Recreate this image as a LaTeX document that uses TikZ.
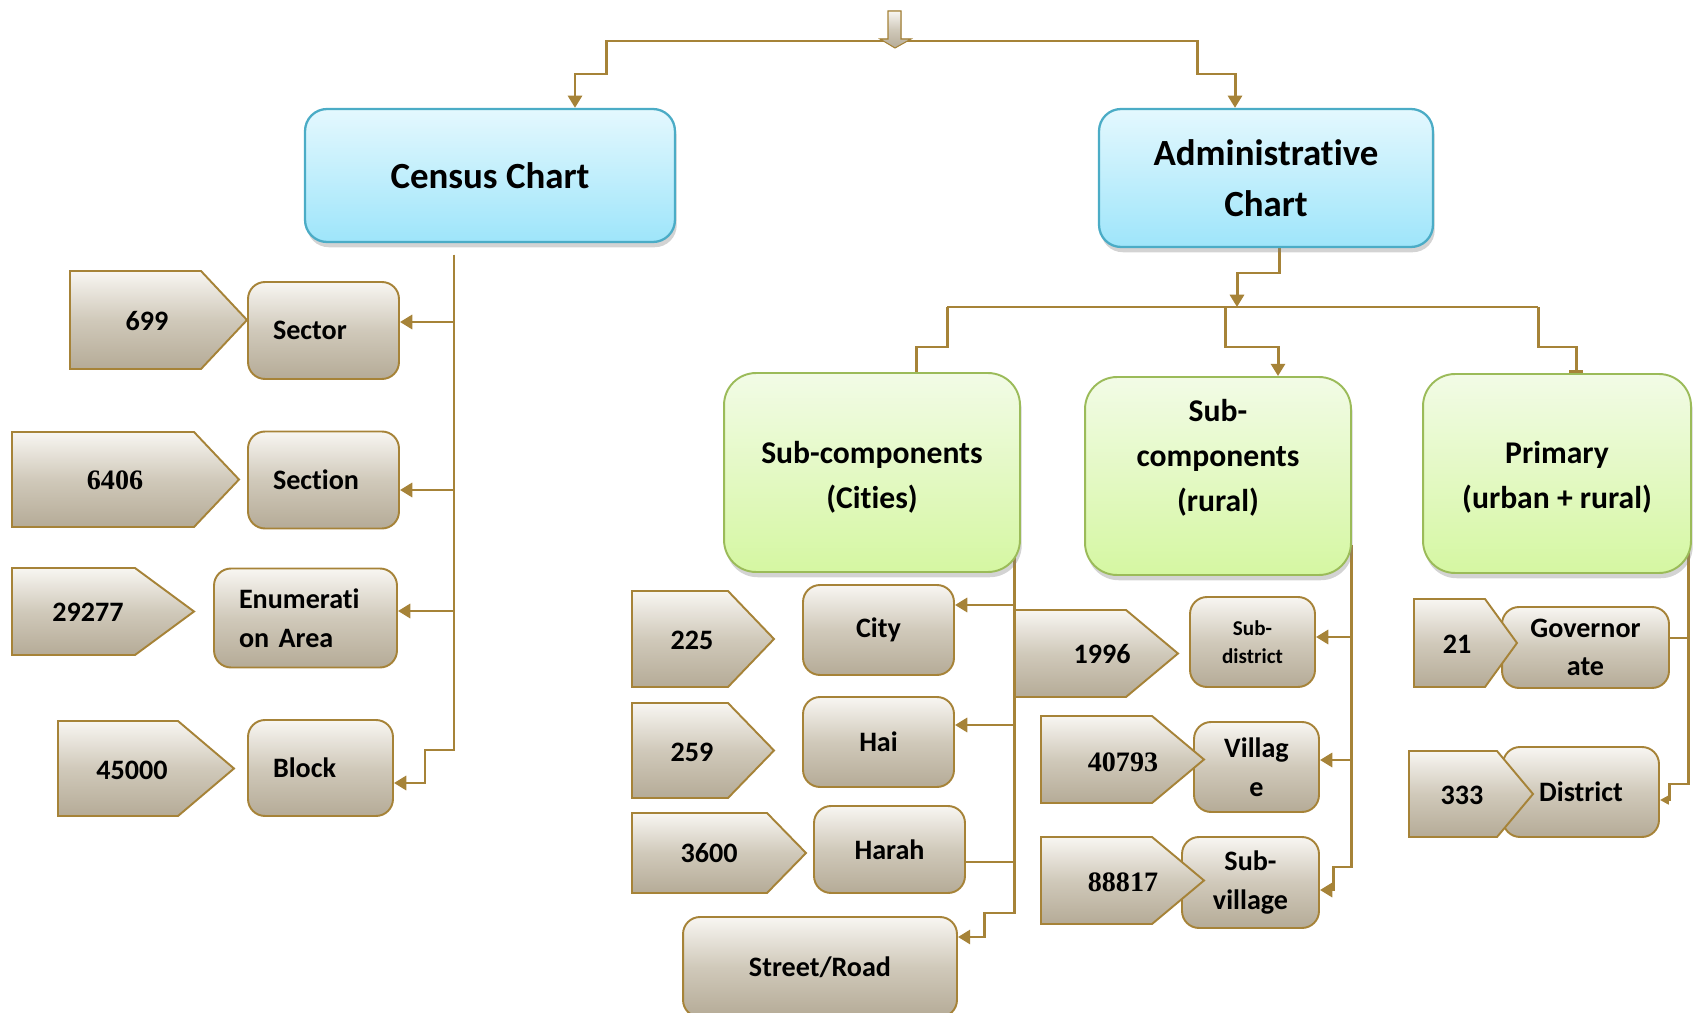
\documentclass[tikz,border=0pt]{standalone}
\usepackage{fontspec}
\setmainfont{Carlito}[Ligatures=NoCommon]
\newfontfamily\timesfont{Liberation Serif}
\usetikzlibrary{arrows.meta,shadows,backgrounds}

\definecolor{lncol}{RGB}{166,131,56}
\definecolor{grtop}{RGB}{248,246,242}
\definecolor{grmid}{RGB}{208,201,186}
\definecolor{grbot}{RGB}{181,171,151}
\definecolor{bltop}{RGB}{228,248,254}
\definecolor{blbot}{RGB}{158,229,250}
\definecolor{blline}{RGB}{75,172,198}
\definecolor{gntop}{RGB}{242,251,230}
\definecolor{gnbot}{RGB}{213,247,162}
\definecolor{gnline}{RGB}{155,187,89}

\begin{document}
\begin{tikzpicture}[
    x=0.02cm, y=-0.02cm,
    chart/.style={rectangle, draw=blline, line width=1.3pt, rounded corners=0.44cm, top color=bltop, bottom color=blbot, align=center, font=\fontsize{21}{29}\selectfont\bfseries, drop shadow={shadow xshift=1pt, shadow yshift=-3pt, opacity=0.35}},
    part/.style={rectangle, draw=gnline, line width=1.1pt, rounded corners=0.64cm, top color=gntop, bottom color=gnbot, drop shadow={shadow xshift=1pt, shadow yshift=-3pt, opacity=0.35}},
    parttext/.style={align=center, font=\fontsize{18}{25.5}\selectfont\bfseries},
    unit/.style={rectangle, draw=lncol, line width=1.1pt, rounded corners=0.34cm, top color=grtop, bottom color=grbot, middle color=grmid, align=center, font=\fontsize{16}{22}\selectfont\bfseries},
    cunit/.style={unit, align=left, inner xsep=0.5cm},
    tag/.style={draw=lncol, line width=1.1pt, top color=grtop, bottom color=grbot, middle color=grmid},
    count/.style={font=\fontsize{16}{20}\selectfont\bfseries},
    countserif/.style={font=\timesfont\fontsize{16}{20}\selectfont\bfseries},
    conn/.style={draw=lncol, line width=1.7pt},
    arr/.style={-{Triangle[length=7pt,width=8pt]}}
]
    \useasboundingbox (0,0) rectangle (1694,1013);

    % charts
    \node[chart, minimum width=7.4cm, minimum height=2.66cm] (census) at (490,175.5) {Census Chart};
    \node[chart, minimum width=6.68cm, minimum height=2.76cm] (admin) at (1266,178) {Administrative\\Chart};

    % administrative parts
    \node[part, minimum width=5.92cm, minimum height=3.98cm] (cities) at (872,472.5) {};
    \node[parttext] (citiestext) at (872,477) {Sub-components\\(Cities)};
    \node[part, minimum width=5.32cm, minimum height=3.96cm] (rural) at (1218,476) {};
    \node[parttext] (ruraltext) at (1218,458) {Sub-\\components\\(rural)};
    \node[part, minimum width=5.36cm, minimum height=3.98cm] (primary) at (1557,473.5) {};
    \node[parttext] (primarytext) at (1557,477) {Primary\\(urban + rural)};

    % census units
    \node[cunit, minimum width=3.02cm, minimum height=1.94cm, text width=2.02cm] (sector) at (323.5,330.5) {Sector};
    \node[cunit, minimum width=3.02cm, minimum height=1.94cm, text width=2.02cm] (section) at (323.5,480) {Section};
    \node[cunit, minimum width=3.66cm, minimum height=1.98cm, text width=2.66cm] (enum) at (305.5,618) {Enumerati\\on Area};
    \node[cunit, minimum width=2.9cm, minimum height=1.92cm, text width=1.9cm] (block) at (320.5,768) {Block};

    % city units
    \node[unit, minimum width=3.02cm, minimum height=1.8cm] (city) at (878.5,630) {City};
    \node[unit, minimum width=3.02cm, minimum height=1.8cm] (hai) at (878.5,742) {Hai};
    \node[unit, minimum width=3.02cm, minimum height=1.74cm] (harah) at (889.5,849.5) {Harah};
    \node[unit, minimum width=5.48cm, minimum height=2cm] (street) at (820,967) {Street/Road};

    % rural units
    \node[unit, minimum width=2.5cm, minimum height=1.8cm, font=\fontsize{12}{15.8}\selectfont\bfseries] (subdist) at (1252.5,642) {Sub-\\district};
    \node[unit, minimum width=2.5cm, minimum height=1.8cm] (village) at (1256.5,767) {Villag\\e};
    \node[unit, minimum width=2.74cm, minimum height=1.82cm] (subvil) at (1250.5,882.5) {Sub-\\village};

    % primary units
    \node[unit, minimum width=3.34cm, minimum height=1.62cm] (gov) at (1585.5,647.5) {Governor\\ate};
    \node[unit, minimum width=3.12cm, minimum height=1.8cm] (district) at (1581,792) {District};

    % counts
    \filldraw[tag] (70,271) -- (201,271) -- (247,320) -- (201,369) -- (70,369) -- cycle;
    \node[count] (n699) at (147,321) {699};
    \filldraw[tag] (12,432) -- (194,432) -- (239,479.5) -- (194,527) -- (12,527) -- cycle;
    \node[countserif] (n6406) at (115,480) {6406};
    \filldraw[tag] (12,568) -- (135,568) -- (194,611.5) -- (135,655) -- (12,655) -- cycle;
    \node[count] (n29277) at (88,612) {29277};
    \filldraw[tag] (58,721) -- (178,721) -- (234,768.5) -- (178,816) -- (58,816) -- cycle;
    \node[count] (n45000) at (132,770) {45000};

    \filldraw[tag] (632,591) -- (728,591) -- (774,639) -- (728,687) -- (632,687) -- cycle;
    \node[count] (n225) at (692,640) {225};
    \filldraw[tag] (632,703) -- (728,703) -- (774,750.5) -- (728,798) -- (632,798) -- cycle;
    \node[count] (n259) at (692,752) {259};
    \filldraw[tag] (632,813) -- (767,813) -- (806,853) -- (767,893) -- (632,893) -- cycle;
    \node[count] (n3600) at (709,853) {3600};

    \filldraw[tag] (1015,610) -- (1126,610) -- (1178,653.5) -- (1126,697) -- (1015,697) -- cycle;
    \node[count] (n1996) at (1102,654) {1996};
    \filldraw[tag] (1041,716) -- (1152,716) -- (1204,759.5) -- (1152,803) -- (1041,803) -- cycle;
    \node[countserif] (n40793) at (1123,762) {40793};
    \filldraw[tag] (1041,837) -- (1152,837) -- (1204,880.5) -- (1152,924) -- (1041,924) -- cycle;
    \node[countserif] (n88817) at (1123,882) {88817};

    \filldraw[tag] (1414,599) -- (1485,599) -- (1517,643) -- (1485,687) -- (1414,687) -- cycle;
    \node[count] (n21) at (1457,644) {21};
    \filldraw[tag] (1409,751) -- (1497,751) -- (1533,794) -- (1497,837) -- (1409,837) -- cycle;
    \node[count] (n333) at (1462,795) {333};

    % top arrow
    \filldraw[tag, line width=0.6pt] (888,11) -- (901,11) -- (901,39) -- (911,39) -- (895,48) -- (880,39) -- (888,39) -- cycle;

    \begin{scope}[on background layer]
    \coordinate (split) at (895,41);
    \draw[conn, arr] (split) -| (606,74) -| (census.north -| 575,0);
    \draw[conn, arr] (split) -| (1197,74) -| (admin.north -| 1235,0);

    \draw[conn, arr] (admin.south -| 1279,0) -- (1279,273) -| (1237,307);
    \draw[conn] (947,307) -- (1538,307);
    \draw[conn] (947,307) |- (916,347) -- (cities.north -| 916,0);
    \draw[conn, arr] (1225,307) |- (1278,347) -- (rural.north -| 1278,0);
    \draw[conn, -{Bar[width=8pt]}] (1538,307) |- (1576,347) -- (primary.north -| 1576,0);

    \coordinate (cbus) at (454,255);
    \draw[conn, arr] (cbus) |- (sector.east |- 0,322);
    \draw[conn, arr] (cbus) |- (section.east |- 0,490);
    \draw[conn, arr] (cbus) |- (enum.east |- 0,611);
    \draw[conn, arr] (cbus) -- (454,750) -| (425,783) -- (block.east |- 0,783);

    \coordinate (ctrunk) at (1014,545);
    \draw[conn, arr] (ctrunk) |- (city.east |- 0,605);
    \draw[conn, arr] (ctrunk) |- (hai.east |- 0,725);
    \draw[conn] (ctrunk) |- (harah.east |- 0,862);
    \draw[conn, arr] (ctrunk) -- (1014,913) -| (984,937) -- (street.east |- 0,937);

    \coordinate (rtrunk) at (1351,545);
    \draw[conn, arr] (rtrunk) |- (subdist.east |- 0,637);
    \draw[conn, arr] (rtrunk) |- (village.east |- 0,760);
    \draw[conn, arr] (rtrunk) -- (1351,867) -| (1333,890) -- (subvil.east |- 0,890);

    \coordinate (ptrunk) at (1688,545);
    \draw[conn] (ptrunk) |- (gov.east |- 0,638);
    \draw[conn, -{Triangle[length=5pt,width=5pt]}] (ptrunk) -- (1688,784) -| (1669,800) -- (district.east |- 0,800);
    \end{scope}
\end{tikzpicture}
\end{document}
